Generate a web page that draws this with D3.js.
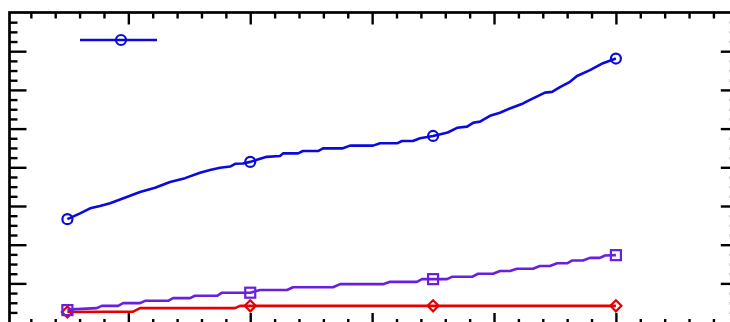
<!DOCTYPE html>
<html><head><meta charset="utf-8">
<script src="https://cdn.jsdelivr.net/npm/d3@7"></script>
<style>html,body{margin:0;padding:0;background:#fff;overflow:hidden}svg{display:block}</style>
</head><body>
<svg id="c" width="730" height="322"></svg>
<script>
// Data (x in axis units: major tick every 10; y in axis units: major tick every 10)
const markerX = [5, 20, 35, 50];

const blueX = [5,6.04,6.86,7.68,8.5,9.16,10.96,12.19,13.42,14.65,15.88,16.7,17.52,18.35,18.76,19.4,20,21.35,22.44,22.69,23.92,24.33,25.56,25.97,27.6,28.19,30.07,30.65,32.04,32.45,33.35,33.93,35,36.2,36.97,37.79,38.28,38.85,39.67,40.49,41.3,42.38,43.2,44.18,44.76,45.41,46.23,46.81,47.87,48.94,50];
const blueY = [26.6,28.1,29.4,30.0,30.7,31.5,33.6,34.7,36.2,37.2,38.6,39.3,39.9,40.2,40.9,41.0,41.4,42.7,42.9,43.6,43.6,44.2,44.2,44.9,44.9,45.6,45.6,46.2,46.2,46.8,46.8,47.5,48.1,49.0,50.2,50.5,51.5,51.8,53.3,54.1,55.2,56.5,57.8,59.3,59.5,60.7,62.1,63.6,65.1,66.9,68.1];

const purpleX = [5,5.36,7.41,7.82,9.16,9.57,10.96,11.37,13.26,13.67,15.06,15.47,17.28,17.69,20,20.8,23.02,23.51,26.79,27.37,30.9,31.47,33.68,34.09,35,36.14,36.55,38.2,38.69,39.92,40.49,41.31,41.88,43.2,43.76,44.59,45.17,45.99,46.4,47.3,47.87,48.69,49.1,50];
const purpleY = [3.1,3.3,3.6,4.2,4.2,4.9,4.9,5.5,5.5,6.2,6.2,6.8,6.8,7.6,7.6,8.3,8.3,9.0,9.0,9.8,9.8,10.4,10.4,11.1,11.1,11.1,11.7,11.7,12.5,12.5,13.2,13.2,13.8,13.8,14.5,14.5,15.2,15.2,15.9,15.9,16.6,16.6,17.2,17.3];

const redX = [5,10.39,10.96,18.75,19.16,20,35,50];
const redY = [2.6,2.7,3.6,3.6,4.2,4.2,4.2,4.2];

const xMajorTicks = d3.range(10, 60, 10);
const xMinorTicks = d3.range(2, 60, 2).filter(v => v % 10 !== 0);
const yMajorTicks = d3.range(10, 80, 10);
const yMinorTicks = d3.range(2.5, 80, 2.5).filter(v => v % 10 !== 0);

const svg = d3.select("#c");
const x = d3.scaleLinear().domain([0.25, 60]).range([9.5, 737.8]);
const y = d3.scaleLinear().domain([-0.75, 80]).range([325, 12.5]);

const axisColor = "#000";
function addAxis(gen, transform) {
  const g = svg.append("g").attr("transform", transform).call(gen);
  g.select(".domain").remove();
  g.selectAll("line").attr("stroke", axisColor).attr("stroke-width", 2.4);
  g.selectAll("text").remove();
}
// top (ticks point inward = down)
addAxis(d3.axisBottom(x).tickValues(xMajorTicks).tickSize(12).tickFormat(""), `translate(0,${y(80)})`);
addAxis(d3.axisBottom(x).tickValues(xMinorTicks).tickSize(6).tickFormat(""), `translate(0,${y(80)})`);
// bottom (ticks point up)
addAxis(d3.axisTop(x).tickValues(xMajorTicks).tickSize(12).tickFormat(""), `translate(0,${y(-0.75)})`);
addAxis(d3.axisTop(x).tickValues(xMinorTicks).tickSize(6).tickFormat(""), `translate(0,${y(-0.75)})`);
// left (ticks point right)
addAxis(d3.axisRight(y).tickValues(yMajorTicks).tickSize(17).tickFormat(""), `translate(${x(0.25)},0)`);
addAxis(d3.axisRight(y).tickValues(yMinorTicks).tickSize(8).tickFormat(""), `translate(${x(0.25)},0)`);
// right (ticks point left)
addAxis(d3.axisLeft(y).tickValues(yMajorTicks).tickSize(17).tickFormat(""), `translate(${x(60)},0)`);
addAxis(d3.axisLeft(y).tickValues(yMinorTicks).tickSize(8).tickFormat(""), `translate(${x(60)},0)`);

// frame
svg.append("rect")
  .attr("x", x(0.25)).attr("y", y(80))
  .attr("width", x(60) - x(0.25)).attr("height", y(-0.75) - y(80))
  .attr("fill", "none").attr("stroke", axisColor).attr("stroke-width", 2.7);

const line = d3.line().x(d => x(d[0])).y(d => y(d[1]));
const series = [
  {xs: redX, ys: redY, color: "#e60000", marker: "diamond"},
  {xs: purpleX, ys: purpleY, color: "#6a1ee0", marker: "square"},
  {xs: blueX, ys: blueY, color: "#0a0adc", marker: "circle"}
];

function drawMarker(g, type, cx, cy, color) {
  if (type === "circle") {
    g.append("circle").attr("cx", cx).attr("cy", cy).attr("r", 5)
      .attr("fill", "none").attr("stroke", color).attr("stroke-width", 2.2);
  } else if (type === "square") {
    g.append("rect").attr("x", cx - 5).attr("y", cy - 5).attr("width", 10).attr("height", 10)
      .attr("fill", "none").attr("stroke", color).attr("stroke-width", 2.2);
  } else {
    const s = 5.5;
    g.append("path").attr("d", `M${cx},${cy - s}L${cx + s},${cy}L${cx},${cy + s}L${cx - s},${cy}Z`)
      .attr("fill", "none").attr("stroke", color).attr("stroke-width", 2.2);
  }
}

series.forEach(s => {
  const pts = s.xs.map((v, i) => [v, s.ys[i]]);
  svg.append("path").datum(pts).attr("d", line)
    .attr("fill", "none").attr("stroke", s.color).attr("stroke-width", 2.6)
    .attr("stroke-linejoin", "round");
  const g = svg.append("g");
  markerX.forEach(mx => {
    const i = s.xs.indexOf(mx);
    if (i >= 0) drawMarker(g, s.marker, x(mx), y(s.ys[i]), s.color);
  });
});

// legend (line sample with circle marker, no label)
const lg = svg.append("g");
lg.append("line").attr("x1", 80).attr("x2", 157).attr("y1", 40).attr("y2", 40)
  .attr("stroke", "#0a0adc").attr("stroke-width", 2.6);
drawMarker(lg, "circle", 121, 40, "#0a0adc");
</script>
</body></html>
